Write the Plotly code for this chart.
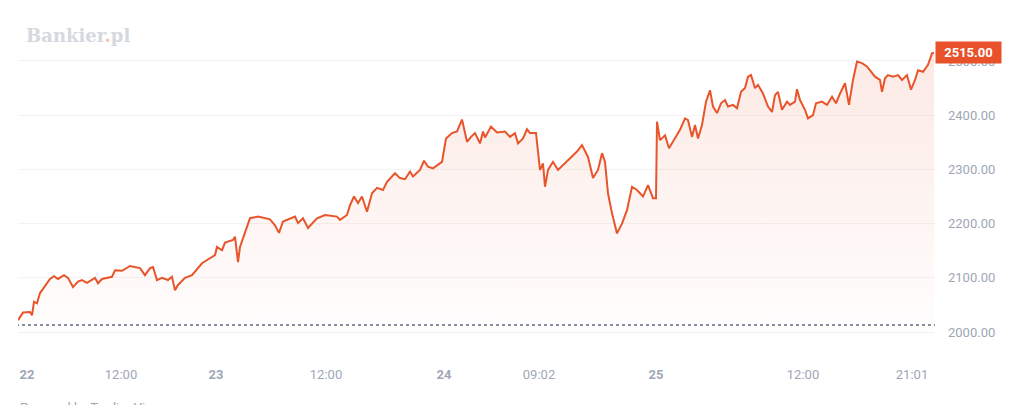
import plotly.graph_objects as go

# bar index (session-compressed time axis) and price
bar = [0, 5, 12, 14, 16, 19, 22, 27, 32, 36, 40, 46, 50, 55, 60, 64, 69, 77, 80, 84,
       94, 97, 104, 112, 117, 122, 127, 132, 135, 139, 144, 150, 154, 157, 160, 167, 174, 184, 189, 197,
       199, 204, 207, 215, 217, 220, 222, 227, 232, 240, 252, 257, 261, 265, 272, 277, 280, 285, 290, 295,
       299, 307, 319, 322, 329, 332, 336, 340, 344, 349, 354, 359, 365, 369, 377, 382, 387, 392, 395, 402,
       406, 410, 415, 424, 428, 434, 439, 444, 449, 453, 457, 462, 465, 467, 473, 479, 487, 492, 497, 500,
       505, 509, 512, 518, 519, 522, 525, 527, 530, 535, 540, 545, 552, 559, 564, 570, 575, 580, 584, 587,
       590, 594, 599, 604, 609, 614, 619, 625, 630, 635, 638, 639, 642, 647, 651, 657, 662, 667, 670, 674,
       677, 680, 684, 688, 692, 695, 699, 703, 707, 710, 715, 719, 723, 727, 730, 733, 737, 740, 745, 750,
       754, 757, 760, 764, 769, 772, 777, 779, 782, 787, 790, 795, 798, 804, 809, 814, 818, 822, 827, 831,
       835, 839, 844, 849, 853, 857, 862, 864, 867, 870, 875, 880, 884, 889, 893, 897, 900, 905, 910, 914,
       916]
price = [2022, 2036, 2037, 2031, 2056, 2053, 2072, 2084, 2098, 2103, 2098, 2105, 2100, 2083, 2093, 2096, 2091, 2100, 2090, 2098,
         2102, 2114, 2113, 2122, 2120, 2118, 2105, 2118, 2120, 2096, 2100, 2096, 2102, 2077, 2087, 2100, 2105, 2127, 2133, 2142,
         2157, 2151, 2165, 2170, 2176, 2129, 2157, 2183, 2210, 2213, 2208, 2197, 2183, 2204, 2210, 2213, 2201, 2210, 2192, 2201,
         2210, 2216, 2213, 2207, 2216, 2234, 2250, 2238, 2250, 2222, 2256, 2266, 2262, 2277, 2293, 2284, 2282, 2296, 2287, 2299,
         2316, 2305, 2302, 2314, 2357, 2367, 2370, 2392, 2351, 2360, 2367, 2348, 2370, 2359, 2379, 2368, 2370, 2360, 2367, 2348,
         2357, 2374, 2367, 2367, 2348, 2299, 2311, 2268, 2299, 2314, 2299, 2308, 2320, 2333, 2345, 2323, 2284, 2299, 2330, 2314,
         2256, 2219, 2182, 2200, 2225, 2268, 2262, 2250, 2271, 2247, 2247, 2388, 2354, 2363, 2339, 2357, 2373, 2394, 2391, 2360,
         2382, 2357, 2382, 2425, 2446, 2416, 2404, 2422, 2428, 2416, 2419, 2413, 2443, 2450, 2471, 2474, 2450, 2456, 2440, 2416,
         2406, 2437, 2443, 2410, 2425, 2419, 2425, 2448, 2428, 2410, 2394, 2400, 2422, 2425, 2419, 2434, 2422, 2440, 2459, 2419,
         2465, 2499, 2496, 2490, 2480, 2471, 2465, 2443, 2468, 2474, 2471, 2474, 2465, 2474, 2447, 2465, 2483, 2480, 2493, 2514,
         2515]

prev_close = 2013
last_price = 2515
y_ticks = [2000, 2100, 2200, 2300, 2400, 2500]
x_tick_pos = [9, 103, 198, 308, 426, 521, 638, 785, 894]
x_tick_text = ["<b>22</b>", "12:00", "<b>23</b>", "12:00", "<b>24</b>", "09:02", "<b>25</b>", "12:00", "21:01"]

LINE = "#e8552b"
LABEL = "#9ea7b6"

fig = go.Figure()
fig.add_trace(go.Scatter(
    x=bar, y=price, mode="lines",
    line=dict(color=LINE, width=2),
    fill="tozeroy",
    fillgradient=dict(type="vertical", start=1967, stop=2515,
                      colorscale=[[0, "rgba(232,85,43,0.0)"], [1, "rgba(232,85,43,0.13)"]]),
    hoverinfo="skip", showlegend=False,
))
fig.add_trace(go.Scatter(
    x=[bar[0] - 2, bar[-1] + 2], y=[prev_close, prev_close], mode="lines",
    line=dict(color="#5f6b80", width=1.5, dash="dot"),
    hoverinfo="skip", showlegend=False,
))

fig.update_layout(
    width=1024, height=405,
    margin=dict(l=18, r=89, t=10, b=55),
    paper_bgcolor="white", plot_bgcolor="white",
    font=dict(family="Roboto, sans-serif", size=13, color=LABEL),
    xaxis=dict(range=[bar[0], bar[-1] + 1], tickvals=x_tick_pos, ticktext=x_tick_text,
               showgrid=False, zeroline=False, showline=False, ticks="",
               ticklabelstandoff=15, tickfont=dict(size=13, color=LABEL), fixedrange=True,
               automargin=False),
    yaxis=dict(range=[1967, 2594], side="right", tickvals=y_ticks,
               ticktext=[f"{v:.2f}" for v in y_ticks],
               showgrid=True, gridcolor="#f3f3f3", gridwidth=1, zeroline=False,
               showline=False, ticks="", ticklabelstandoff=12,
               tickfont=dict(size=13, color=LABEL), automargin=False),
)

fig.add_annotation(
    xref="paper", yref="y", x=1.0, y=last_price, xanchor="left", yanchor="middle",
    text="<b>%.2f</b>" % last_price, showarrow=False,
    font=dict(color="white", size=13, family="Roboto, sans-serif"),
    bgcolor="#e8512a", borderpad=3, width=59, align="center",
)
fig.add_annotation(
    xref="paper", yref="paper", x=0.006, y=0.962, xanchor="left", yanchor="top",
    text="Bankier<span style='color:#f6c1ac'>.</span>pl", showarrow=False,
    font=dict(color="#d4d9e0", size=18, family="DejaVu Serif, serif", weight="bold"),
)
fig.add_annotation(
    xref="paper", yref="paper", x=0.0, y=-0.141, xanchor="left", yanchor="top",
    text="Powered by TradingView", showarrow=False,
    font=dict(color="#9ea7b6", size=13, family="Roboto, sans-serif"),
)

fig.write_html("out.html", post_script="document.body.style.margin='0';",
               config={"displayModeBar": False})
